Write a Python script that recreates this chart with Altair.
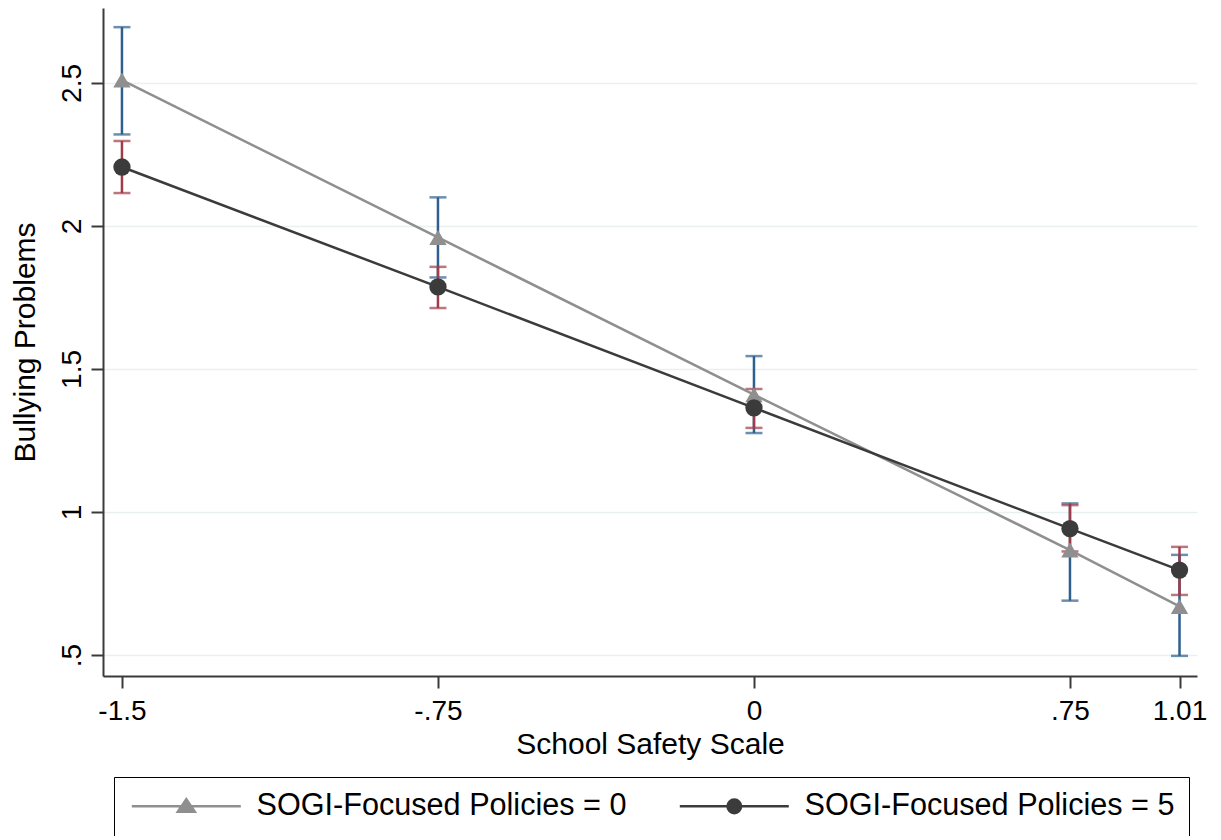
import json
import altair as alt
import pandas as pd

# ---- data ----
x_vals = [-1.5, -0.75, 0.0, 0.75, 1.01]
x_labels = ["-1.5", "-.75", "0", ".75", "1.01"]
y_ticks = [0.5, 1.0, 1.5, 2.0, 2.5]
y_labels = [".5", "1", "1.5", "2", "2.5"]
series_names = ["SOGI-Focused Policies = 0", "SOGI-Focused Policies = 5"]

mean_0 = [2.51, 1.96, 1.41, 0.867, 0.670]
lo_0 = [2.32, 1.82, 1.276, 0.69, 0.497]
hi_0 = [2.695, 2.10, 1.545, 1.03, 0.85]

mean_5 = [2.206, 1.787, 1.364, 0.942, 0.797]
lo_5 = [2.115, 1.713, 1.294, 0.862, 0.71]
hi_5 = [2.297, 1.857, 1.43, 1.024, 0.878]

GRAY = "#8f8f8f"
DARK = "#3b3b3b"
BLUE = "#2d5f8f"
RED = "#a03c47"
AXIS = "#3a3a3a"
GRID = "#e8f0f2"
FONT = "Liberation Sans"

rows = []
for i, xv in enumerate(x_vals):
    rows.append(dict(x=xv, s=series_names[0], m=mean_0[i], lo=lo_0[i], hi=hi_0[i]))
    rows.append(dict(x=xv, s=series_names[1], m=mean_5[i], lo=lo_5[i], hi=hi_5[i]))
df = pd.DataFrame(rows)


def ternary(values, labels):
    expr = "''"
    for v, l in reversed(list(zip(values, labels))):
        expr = f"datum.value == {v} ? {json.dumps(l)} : ({expr})"
    return expr


xs = alt.Scale(domain=[-1.545, 1.0515], nice=False, zero=False)
ys = alt.Scale(domain=[0.4266, 2.762], nice=False, zero=False)

x_axis = alt.Axis(
    values=x_vals, labelExpr=ternary(x_vals, x_labels), grid=False,
    title="School Safety Scale", titleFontSize=30, titleFont=FONT, titleFontWeight="normal",
    titleColor="black", titleX=547, titleY=77, titleBaseline="alphabetic",
    labelFontSize=28, labelFont=FONT, labelColor="black", labelBaseline="alphabetic",
    labelPadding=31, tickSize=12, tickWidth=2, tickColor=AXIS,
    domainColor=AXIS, domainWidth=2, labelFlush=False,
)
y_axis = alt.Axis(
    values=y_ticks, labelExpr=ternary(y_ticks, y_labels), grid=True,
    gridColor=GRID, gridWidth=1.5,
    title="Bullying Problems", titleFontSize=30, titleFont=FONT, titleFontWeight="normal",
    titleColor="black", titleAngle=270, titleX=-69, titleY=334, titleAlign="center",
    titleBaseline="alphabetic",
    labelFontSize=28, labelFont=FONT, labelColor="black", labelAngle=270,
    labelAlign="center", labelBaseline="alphabetic", labelPadding=11,
    tickSize=12, tickWidth=2, tickColor=AXIS, domainColor=AXIS, domainWidth=2,
    labelFlush=False,
)

base = alt.Chart(df)

X = alt.X("x:Q", scale=xs, axis=x_axis)
Xn = alt.X("x:Q", scale=xs)


def ci_layers(name, color):
    b = base.transform_filter(alt.datum.s == name)
    rule = b.mark_rule(color=color, strokeWidth=2.5).encode(
        x=Xn, y=alt.Y("lo:Q", scale=ys), y2="hi:Q")
    cap_lo = b.mark_tick(color=color, orient="horizontal", size=17, thickness=2.5).encode(
        x=Xn, y=alt.Y("lo:Q", scale=ys))
    cap_hi = b.mark_tick(color=color, orient="horizontal", size=17, thickness=2.5).encode(
        x=Xn, y=alt.Y("hi:Q", scale=ys))
    return [rule, cap_lo, cap_hi]


def series_layers(name, col, shape):
    b = base.transform_filter(alt.datum.s == name)
    ln = b.mark_line(strokeWidth=2.5, color=col).encode(
        x=Xn, y=alt.Y("m:Q", scale=ys))
    pt = b.mark_point(filled=True, size=300, opacity=1, color=col, shape=shape).encode(
        x=Xn, y=alt.Y("m:Q", scale=ys))
    return [ln, pt]


# legend: symbols made of a line segment with the marker in the middle (1 unit = 10 px)
path0 = "M-5.45,0L5.45,0M0,-0.72L0.85,0.55L-0.85,0.55Z"
path1 = "M-5.45,0L5.45,0M-0.68,0A0.68,0.68,0,1,1,0.68,0A0.68,0.68,0,1,1,-0.68,0Z"


def make_legend():
    return alt.Legend(
        orient="none", legendX=11, legendY=769, direction="horizontal", title=None,
        labelFont=FONT, labelFontSize=30.6, labelColor="black", labelLimit=0,
        symbolSize=400, symbolStrokeWidth=2.5, symbolOffset=43, labelOffset=55,
        columnPadding=47, padding=14, strokeColor="black",
    )


legend_layer = base.transform_filter("false").mark_point(
    filled=True, opacity=1, strokeWidth=2.5).encode(
    x=Xn, y=alt.Y("m:Q", scale=ys),
    fill=alt.Fill("s:N", scale=alt.Scale(domain=series_names, range=[GRAY, DARK]),
                  legend=make_legend()),
    stroke=alt.Stroke("s:N", scale=alt.Scale(domain=series_names, range=[GRAY, DARK]),
                      legend=make_legend()),
    shape=alt.Shape("s:N", scale=alt.Scale(domain=series_names, range=[path0, path1]),
                    legend=make_legend()),
)

# axis-carrying invisible layer
axis_layer = base.mark_point(opacity=0).encode(x=X, y=alt.Y("m:Q", scale=ys, axis=y_axis))

layers = ([axis_layer] + ci_layers(series_names[0], BLUE) + ci_layers(series_names[1], RED)
          + series_layers(series_names[0], GRAY, "triangle-up")
          + series_layers(series_names[1], DARK, "circle") + [legend_layer])

chart = alt.layer(*layers).properties(
    width=1094, height=668,
    autosize=alt.AutoSizeParams(type="none"),
    padding={"left": 95, "top": 0, "right": 16, "bottom": 160},
    background="white",
).configure_view(stroke=None)

chart.save("out.html", embed_options={"renderer": "svg", "actions": False})
